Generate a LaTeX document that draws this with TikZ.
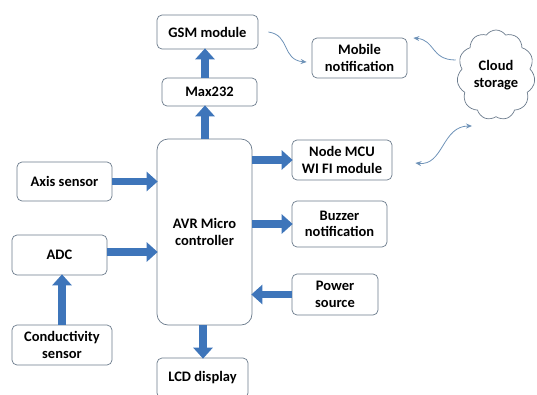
\documentclass[tikz,border=0pt]{standalone}
\usepackage{fontspec}
\setmainfont{Carlito}
\usetikzlibrary{arrows.meta,shapes.symbols}
\definecolor{blockblue}{HTML}{3E75BA}
\definecolor{boxline}{HTML}{6B7B8C}
\definecolor{wavyblue}{HTML}{6F93B8}
\tikzset{
	blk/.style={draw=boxline, line width=0.7pt, rounded corners=5pt, fill=white, align=center,
		font=\bfseries\fontsize{14.5}{16.5}\selectfont, inner sep=1pt},
	fat/.style={blockblue, line width=7.5pt, -{Triangle[width=19pt,length=11pt]}, shorten >=-1pt},
	wavy/.style={wavyblue, line width=0.8pt, -{Stealth[length=6pt,width=5pt,inset=2pt]}}
}
\begin{document}
\begin{tikzpicture}[x=1pt, y=-1pt]
	\useasboundingbox (0,0) rectangle (537,394);
	% boxes
	\node[blk, minimum width=101pt, minimum height=34pt] (gsm) at (207.5,32) {GSM module};
	\node[blk, minimum width=95pt, minimum height=28pt] (max) at (209.5,92) {Max232};
	\node[blk, minimum width=95pt, minimum height=186pt, rounded corners=11pt] (avr) at (204.5,232) {AVR Micro\\controller};
	\node[blk, minimum width=95pt, minimum height=39pt] (axis) at (64.5,181.5) {Axis sensor};
	\node[blk, minimum width=95pt, minimum height=40pt] (adc) at (59.5,255) {ADC};
	\node[blk, minimum width=100pt, minimum height=40pt] (cond) at (62,345) {Conductivity\\sensor};
	\node[blk, minimum width=91pt, minimum height=40pt] (lcd) at (202.5,378) {LCD display};
	\node[blk, minimum width=95pt, minimum height=40pt] (mobile) at (359.5,58) {Mobile\\notification};
	\node[blk, minimum width=100pt, minimum height=40pt] (mcu) at (342,160) {Node MCU\\WI FI module};
	\node[blk, minimum width=95pt, minimum height=46pt] (buzzer) at (339.5,224) {Buzzer\\notification};
	\node[blk, minimum width=86pt, minimum height=41pt] (power) at (335,294.5) {Power\\source};
	\node[cloud, draw=boxline, line width=0.7pt, cloud puffs=11, cloud puff arc=110, aspect=0.85,
		minimum width=78pt, minimum height=90pt, align=center, inner sep=0pt,
		font=\bfseries\fontsize{14.5}{16.5}\selectfont] (cloud) at (496,75) {Cloud\\storage};
	% block arrows
	\draw[fat] (max.north -| 205,0) -- (gsm.south -| 205,0);
	\draw[fat] (avr.north -| 205,0) -- (max.south -| 205,0);
	\draw[fat] (axis.east) -- (axis.east -| avr.west);
	\draw[fat] (adc.east |- 0,252) -- (avr.west |- 0,252);
	\draw[fat] (cond.north -| 62,0) -- (adc.south -| 62,0);
	\draw[fat] (avr.south -| 203,0) -- (lcd.north -| 203,0);
	\draw[fat] (avr.east |- mcu) -- (mcu.west);
	\draw[fat] (avr.east |- buzzer) -- (buzzer.west);
	\draw[fat] (power.west) -- (power.west -| avr.east);
	% wireless links
	\draw[wavy] ([shift={(10,0)}]gsm.east) .. controls +(22,3) and +(-25,-2) .. ([shift={(-5,4)}]mobile.west);
	\draw[wavy] ([shift={(-2,-15)}]cloud.west) .. controls +(-25,0) and +(22,2) .. ([shift={(6,-20)}]mobile.east);
	\draw[wavy, {Stealth[length=6pt,width=5pt,inset=2pt]}-{Stealth[length=6pt,width=5pt,inset=2pt]}]
		([shift={(23,3)}]mcu.east) .. controls +(28,3) and +(-30,0) .. ([shift={(-24,51)}]cloud.center);
\end{tikzpicture}
\end{document}
